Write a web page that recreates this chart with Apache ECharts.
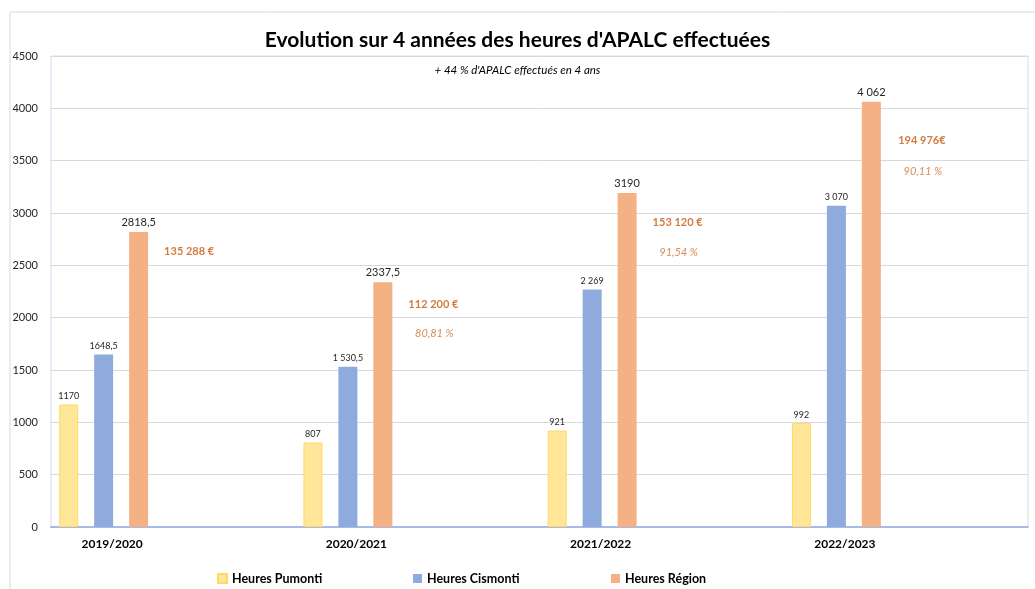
<!DOCTYPE html>
<html>
<head>
<meta charset="utf-8">
<script src="https://cdn.jsdelivr.net/npm/echarts@6/dist/echarts.min.js"></script>
<style>
  html, body { margin: 0; padding: 0; background: #fff; }
</style>
</head>
<body>
<div id="main" style="width: 1035px; height: 589px"></div>
<script>
// données
const categories = ['2019/2020', '2020/2021', '2021/2022', '2022/2023']
const seriesNames = ['Heures Pumonti', 'Heures Cismonti', 'Heures Région']
const pumonti = [1170, 807, 921, 992]
const cismonti = [1648.5, 1530.5, 2269, 3070]
const region = [2818.5, 2337.5, 3190, 4062]
const pumontiLabels = ['1170', '807', '921', '992']
const cismontiLabels = ['1648,5', '1 530,5', '2 269', '3 070']
const regionLabels = ['2818,5', '2337,5', '3190', '4 062']
// annotations (montant / taux) posées à côté des barres
const montants = ['135 288 €', '112 200 €', '153 120 €', '194 976€']
const montantsY = [2630, 2130, 2905, 3690]
const taux = [null, '80,81 %', '91,54 %', '90,11 %']
const tauxY = [null, 1845, 2620, 3400]
const yTicks = { min: 0, max: 4500, interval: 500 }

const FONT = 'Lato'
const chart = echarts.init(document.getElementById('main'))

const barLabel = (labels, size) => ({
  show: true,
  position: 'top',
  distance: 4,
  color: '#262626',
  fontSize: size,
  fontFamily: FONT,
  formatter: (p) => labels[p.dataIndex]
})

// une légende par série, pour garder l'espacement large de l'original
const legendLefts = [217, 413, 611]
const legends = seriesNames.map((name, i) => ({
  data: [name],
  left: legendLefts[i],
  bottom: 4,
  padding: 0,
  itemWidth: 9,
  itemHeight: 9,
  itemTextGap: 3,
  icon: 'rect',
  textStyle: { fontSize: 12.5, fontWeight: 'bold', color: '#000', fontFamily: FONT }
}))

const option = {
  backgroundColor: '#fff',
  animation: false,
  textStyle: { fontFamily: FONT },
  graphic: [
    {
      type: 'rect',
      shape: { x: 10, y: 12, width: 1100, height: 700 },
      style: { fill: 'none', stroke: '#D9D9D9', lineWidth: 1 },
      silent: true
    }
  ],
  title: {
    text: "Evolution sur 4 années des heures d'APALC effectuées",
    subtext: "+ 44 % d'APALC effectués en 4 ans",
    left: 'center',
    top: 25,
    itemGap: 13,
    textStyle: { fontSize: 21, fontWeight: 'bold', color: '#000', fontFamily: FONT },
    subtextStyle: { fontSize: 11.5, fontStyle: 'italic', color: '#000', fontFamily: FONT }
  },
  legend: legends,
  grid: {
    left: 51,
    right: 7,
    top: 56,
    bottom: 62,
    show: true,
    borderColor: '#D3DCF0',
    borderWidth: 1,
    containLabel: false
  },
  xAxis: {
    type: 'category',
    data: categories,
    axisTick: { show: false },
    axisLine: { show: true, lineStyle: { color: '#A7BCE5', width: 2 } },
    axisLabel: {
      margin: 11,
      formatter: (v) => '{a|' + v + '}',
      rich: {
        a: { fontSize: 12, fontWeight: 'bold', color: '#000', fontFamily: FONT, padding: [0, 122, 0, 0] }
      }
    }
  },
  yAxis: {
    type: 'value',
    min: yTicks.min,
    max: yTicks.max,
    interval: yTicks.interval,
    axisLine: { show: false },
    axisTick: { show: false },
    axisLabel: {
      fontSize: 11,
      color: '#262626',
      margin: 13,
      fontFamily: FONT,
      formatter: (v) => String(v)
    },
    splitLine: { lineStyle: { color: '#D9D9D9' } }
  },
  series: [
    {
      name: seriesNames[0],
      type: 'bar',
      data: pumonti,
      barWidth: 19,
      barGap: '84%',
      itemStyle: { color: '#FFE699', borderColor: '#FFD966', borderWidth: 1 },
      label: barLabel(pumontiLabels, 9)
    },
    {
      name: seriesNames[1],
      type: 'bar',
      data: cismonti,
      barWidth: 19,
      barGap: '84%',
      itemStyle: { color: '#8FAADC' },
      label: barLabel(cismontiLabels, 9)
    },
    {
      name: seriesNames[2],
      type: 'bar',
      data: region,
      barWidth: 19,
      barGap: '84%',
      itemStyle: { color: '#F4B183' },
      label: barLabel(regionLabels, 11)
    },
    // espace vide à droite des barres (où sont les annotations)
    {
      name: 'vide',
      type: 'bar',
      data: categories.map(() => 0),
      barWidth: 123,
      barGap: '84%',
      silent: true,
      itemStyle: { color: 'rgba(0,0,0,0)' },
      tooltip: { show: false }
    },
    {
      name: 'montants',
      type: 'scatter',
      data: montantsY,
      symbolSize: 0,
      silent: true,
      label: {
        show: true,
        position: 'inside',
        offset: [16, 0],
        color: '#C55A11',
        fontSize: 11,
        fontWeight: 'bold',
        fontFamily: FONT,
        formatter: (p) => montants[p.dataIndex]
      }
    },
    {
      name: 'taux',
      type: 'scatter',
      data: tauxY.map((v) => (v == null ? '-' : v)),
      symbolSize: 0,
      silent: true,
      label: {
        show: true,
        position: 'inside',
        offset: [17, 0],
        color: '#C9702F',
        fontSize: 11,
        fontStyle: 'italic',
        fontFamily: FONT,
        formatter: (p) => taux[p.dataIndex] || ''
      }
    }
  ]
}

option && chart.setOption(option)
</script>
</body>
</html>
